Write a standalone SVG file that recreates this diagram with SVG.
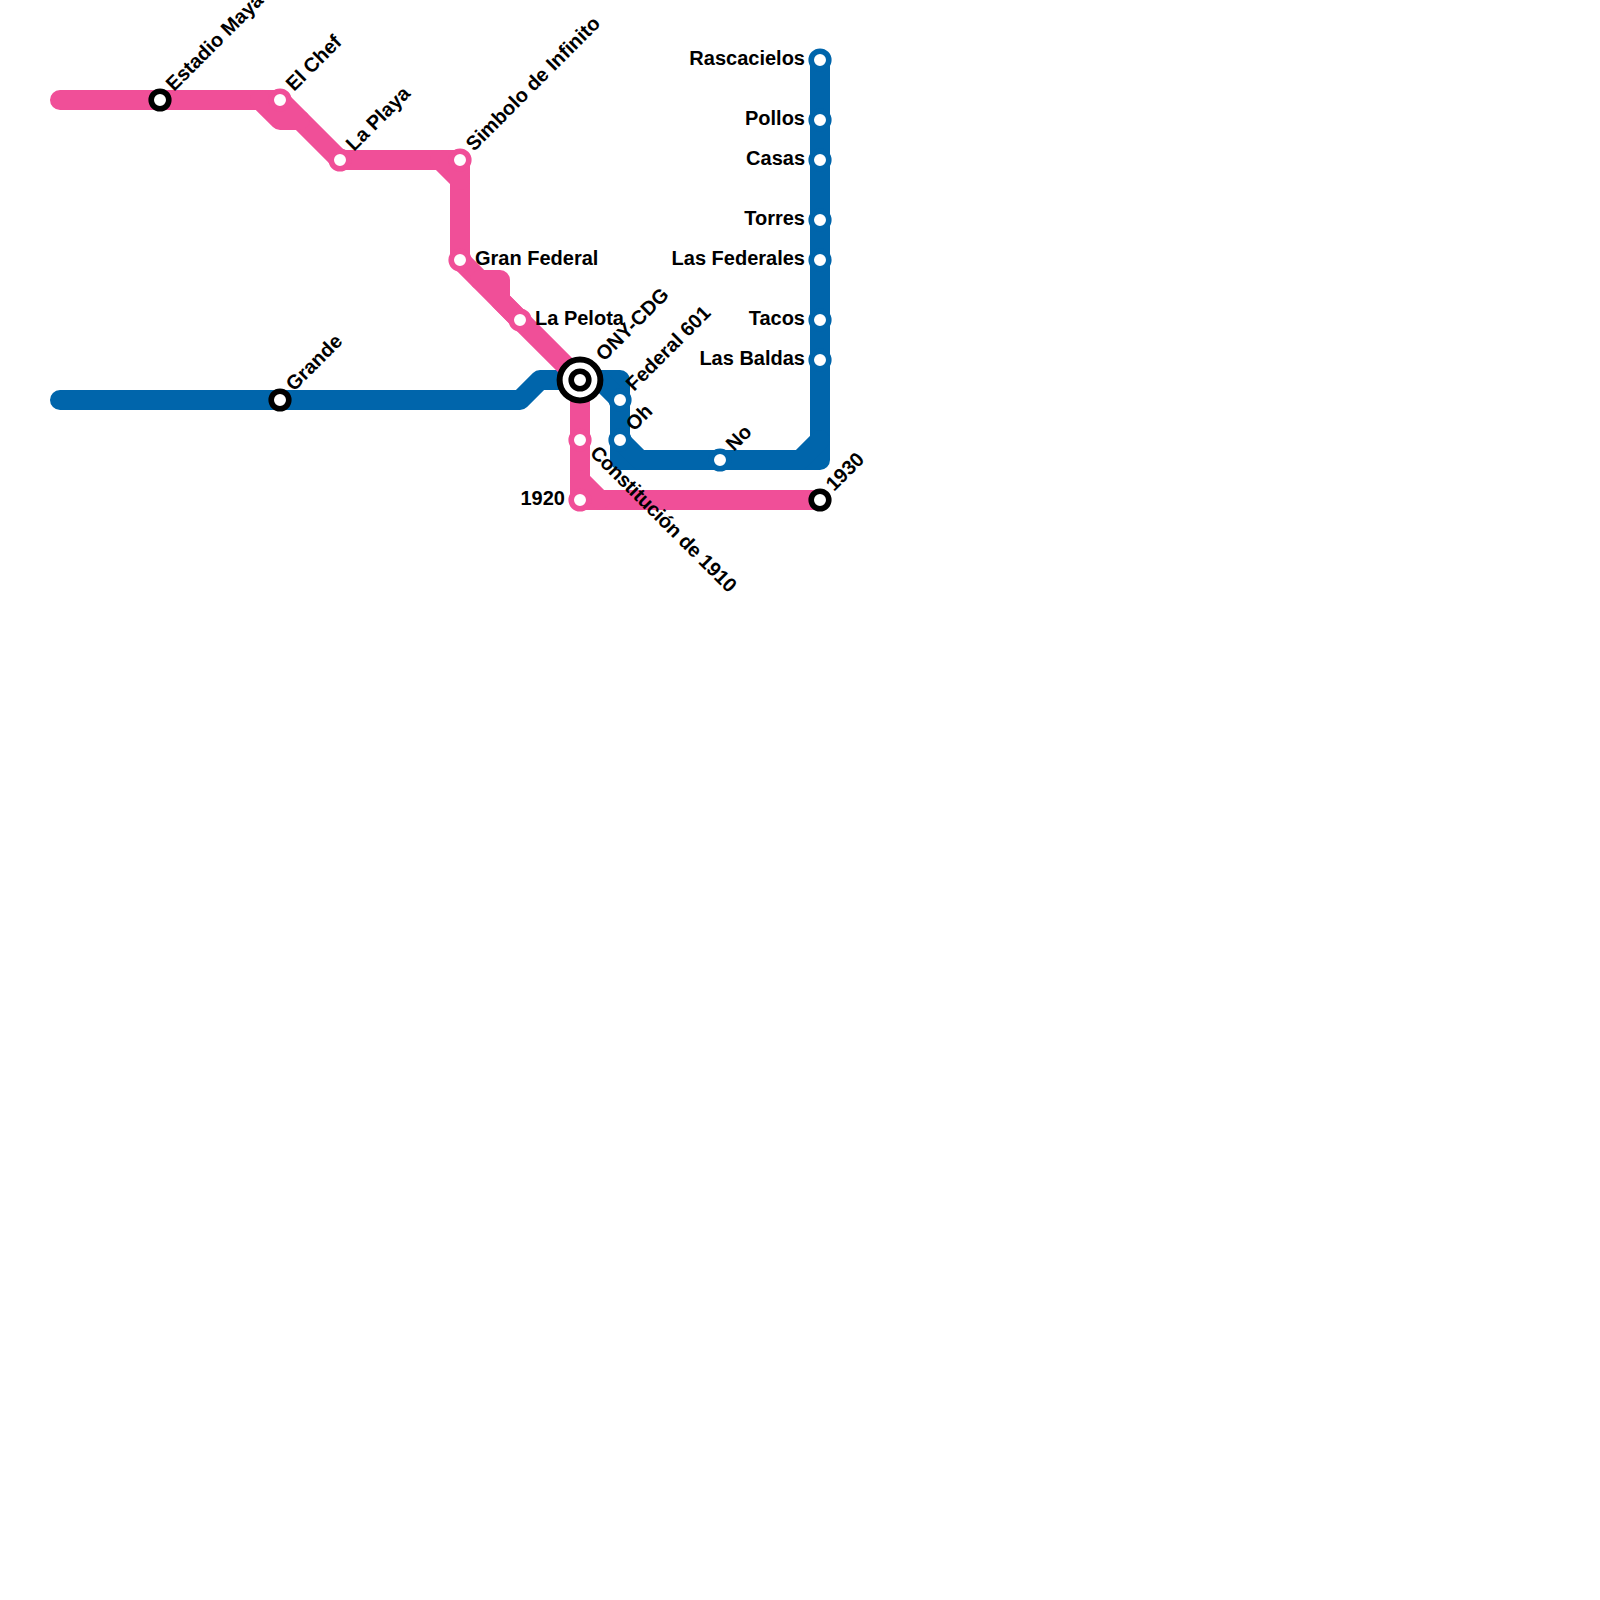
<svg xmlns="http://www.w3.org/2000/svg" width="1600" height="1600" viewBox="0 0 1600 1600">
<style>
.l{fill:none;stroke-width:20;stroke-linejoin:round;stroke-linecap:round}
.p{stroke:#f04f98}
.b{stroke:#0065ab}
.s{fill:#fff;stroke-width:5.6}
.k{stroke:#000}
.t{font-family:"Liberation Sans",Arial,sans-serif;font-weight:700;font-size:20px;fill:#000}
.e{text-anchor:end}
</style>
<rect width="1600" height="1600" fill="#fff"/>
<g id="connectors">
<path class="l b" d="M60 400H520L540 380H620V460H820V60"/>
<path class="l b" d="M600 380L620 400V440L640 460H800L820 440"/>
<path class="l p" d="M60 100H280L340 160H460V260L580 380V500H820"/>
<path class="l p" d="M260 100L280 120H300"/>
<path class="l p" d="M440 160L460 180"/>
<path class="l p" d="M480 280H500V300L520 320"/>
<path class="l p" d="M580 480L600 500"/>
</g>
<g id="n-estadio"><circle class="s k" cx="160" cy="100" r="8.8"/><text class="t" transform="translate(174 92) rotate(-45)">Estadio Maya</text></g>
<g id="n-chef"><circle class="s p" cx="280" cy="100" r="8.8"/><text class="t" transform="translate(294 92) rotate(-45)">El Chef</text></g>
<g id="n-playa"><circle class="s p" cx="340" cy="160" r="8.8"/><text class="t" transform="translate(354 152) rotate(-45)">La Playa</text></g>
<g id="n-simbolo"><circle class="s p" cx="460" cy="160" r="8.8"/><text class="t" transform="translate(474 152) rotate(-45)">Simbolo de Infinito</text></g>
<g id="n-gran"><circle class="s p" cx="460" cy="260" r="8.8"/><text class="t" x="475" y="265">Gran Federal</text></g>
<g id="n-pelota"><circle class="s p" cx="520" cy="320" r="8.8"/><text class="t" x="535" y="325">La Pelota</text></g>
<g id="n-grande"><circle class="s k" cx="280" cy="400" r="8.8"/><text class="t" transform="translate(294 392) rotate(-45)">Grande</text></g>
<g id="n-ony"><circle class="k" cx="580" cy="380" r="20.4" fill="#fff" stroke-width="6"/><circle class="s k" cx="580" cy="380" r="8.8"/><text class="t" transform="translate(604 362) rotate(-45)">ONY-CDG</text></g>
<g id="n-federal601"><circle class="s b" cx="620" cy="400" r="8.8"/><text class="t" transform="translate(634 392) rotate(-45)">Federal 601</text></g>
<g id="n-oh"><circle class="s b" cx="620" cy="440" r="8.8"/><text class="t" transform="translate(634 432) rotate(-45)">Oh</text></g>
<g id="n-no"><circle class="s b" cx="720" cy="460" r="8.8"/><text class="t" transform="translate(734 452) rotate(-45)">No</text></g>
<g id="n-constitucion"><circle class="s p" cx="580" cy="440" r="8.8"/><text class="t" letter-spacing="-0.2" transform="translate(589 454) rotate(45)">Constitución de 1910</text></g>
<g id="n-1920"><circle class="s p" cx="580" cy="500" r="8.8"/><text class="t e" x="565" y="505">1920</text></g>
<g id="n-1930"><circle class="s k" cx="820" cy="500" r="8.8"/><text class="t" transform="translate(834 492) rotate(-45)">1930</text></g>
<g id="n-rascacielos"><circle class="s b" cx="820" cy="60" r="8.8"/><text class="t e" x="805" y="65">Rascacielos</text></g>
<g id="n-pollos"><circle class="s b" cx="820" cy="120" r="8.8"/><text class="t e" x="805" y="125">Pollos</text></g>
<g id="n-casas"><circle class="s b" cx="820" cy="160" r="8.8"/><text class="t e" x="805" y="165">Casas</text></g>
<g id="n-torres"><circle class="s b" cx="820" cy="220" r="8.8"/><text class="t e" x="805" y="225">Torres</text></g>
<g id="n-federales"><circle class="s b" cx="820" cy="260" r="8.8"/><text class="t e" x="805" y="265">Las Federales</text></g>
<g id="n-tacos"><circle class="s b" cx="820" cy="320" r="8.8"/><text class="t e" x="805" y="325">Tacos</text></g>
<g id="n-baldas"><circle class="s b" cx="820" cy="360" r="8.8"/><text class="t e" x="805" y="365">Las Baldas</text></g>
</svg>
